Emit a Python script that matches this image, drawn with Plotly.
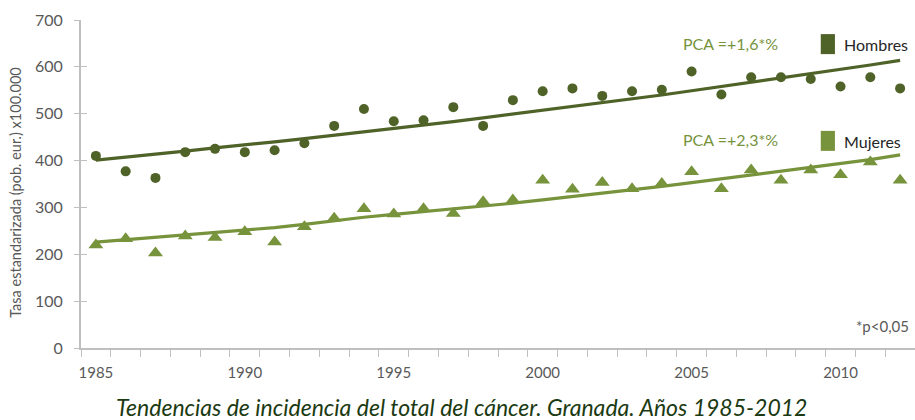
import plotly.graph_objects as go

years = list(range(1985, 2013))

hombres_obs = [410, 377, 363, 418, 425, 418, 422, 437, 474, 510,
               484, 486, 514, 474, 529, 548, 554, 538, 548, 551,
               590, 541, 578, 578, 574, 558, 578, 554]
hombres_trend = [401, 407, 413, 420, 427, 433, 440, 447, 454, 461,
                 468, 476, 483, 491, 499, 507, 515, 523, 532, 540,
                 549, 558, 567, 576, 585, 595, 604, 614]

mujeres_obs = [220, 233, 203, 239, 236, 248, 226, 259, 277, 297,
               286, 297, 287, 312, 316, 358, 339, 353, 340, 351,
               376, 340, 380, 358, 380, 370, 397, 358]
mujeres_trend = [226, 231, 236, 241, 247, 252, 257, 264, 272, 279,
                 285, 291, 296, 302, 309, 316, 323, 330, 337, 345,
                 353, 361, 369, 377, 385, 393, 402, 412]

x_labels = [1985, 1990, 1995, 2000, 2005, 2010]
y_ticks = [0, 100, 200, 300, 400, 500, 600, 700]

DARK = "#4F6228"
LIGHT = "#77933C"
GRAY = "#595959"
AXIS = "#BFBFBF"
FONT = "Lato"

fig = go.Figure()

fig.add_trace(go.Scatter(x=years, y=hombres_trend, mode="lines",
                         line=dict(color=DARK, width=3.2), showlegend=False))
fig.add_trace(go.Scatter(x=years, y=hombres_obs, mode="markers",
                         marker=dict(color=DARK, size=10, symbol="circle"),
                         showlegend=False))
fig.add_trace(go.Scatter(x=years, y=mujeres_trend, mode="lines",
                         line=dict(color=LIGHT, width=3.2), showlegend=False))
fig.add_trace(go.Scatter(x=years, y=mujeres_obs, mode="markers",
                         marker=dict(color=LIGHT, size=13, symbol="triangle-up"),
                         showlegend=False))
# invisible trace so the overlay axis (inner half of the y ticks) is drawn
fig.add_trace(go.Scatter(x=[years[0]], y=[0], yaxis="y2", mode="markers",
                         marker=dict(opacity=0), showlegend=False, hoverinfo="skip"))

fig.update_layout(
    width=915, height=420,
    margin=dict(l=81, r=0, t=20, b=72),
    plot_bgcolor="white", paper_bgcolor="white",
    font=dict(family=FONT, color=GRAY, size=15),
    xaxis=dict(
        range=[1984.5, 2012.5], tickvals=x_labels, ticks="",
        showline=True, linecolor=AXIS, linewidth=1.5, showgrid=False, zeroline=False,
        tickfont=dict(size=15, color=GRAY), ticklabelstandoff=10,
        minor=dict(ticks="outside", tick0=1984.5, dtick=1, ticklen=7,
                   tickcolor=AXIS, tickwidth=1, showgrid=False),
    ),
    yaxis=dict(
        range=[0, 700], tickvals=y_ticks, ticks="outside", ticklen=5,
        tickcolor=AXIS, showline=True, linecolor=AXIS, linewidth=2,
        showgrid=False, zeroline=False, tickfont=dict(size=16, color=GRAY),
        ticklabelstandoff=8,
    ),
    yaxis2=dict(
        range=[0, 700], tickvals=y_ticks, ticks="inside", ticklen=6,
        tickcolor=AXIS, overlaying="y", side="left", showticklabels=False,
        showline=False, showgrid=False, zeroline=False,
    ),
)

# y axis title, placed as a rotated annotation
fig.add_annotation(x=-0.078, y=0.476, xref="paper", yref="paper",
                   text="Tasa estandarizada (pob. eur.) x100.000", textangle=-90,
                   xanchor="center", yanchor="middle", showarrow=False,
                   font=dict(size=14.5, color=GRAY))

# trend labels
fig.add_annotation(x=0.779, y=0.929, xref="paper", yref="paper", text="PCA =+1,6*%",
                   xanchor="center", yanchor="middle",
                   showarrow=False, font=dict(size=16, color=LIGHT))
fig.add_annotation(x=0.779, y=0.636, xref="paper", yref="paper", text="PCA =+2,3*%",
                   xanchor="center", yanchor="middle",
                   showarrow=False, font=dict(size=16, color=LIGHT))

# legend boxes
for y0, col, name in [(0.896, DARK, "Hombres"), (0.601, LIGHT, "Mujeres")]:
    fig.add_shape(type="rect", xref="paper", yref="paper",
                  x0=0.887, x1=0.904, y0=y0, y1=y0 + 0.061,
                  fillcolor=col, line=dict(width=0))
    fig.add_annotation(x=0.913, y=y0 + 0.03, xref="paper", yref="paper", text=name,
                       xanchor="left", yanchor="middle", showarrow=False,
                       font=dict(size=16, color="#262626"))

fig.add_annotation(x=0.995, y=0.067, xref="paper", yref="paper", text="*p<0,05",
                   xanchor="right", yanchor="middle", showarrow=False,
                   font=dict(size=15, color=GRAY))

fig.add_annotation(x=0.5, y=-0.18, xref="paper", yref="paper", yanchor="middle",
                   xanchor="center",
                   text="<i>Tendencias de incidencia del total del cáncer. Granada. Años 1985-2012</i>",
                   showarrow=False, xshift=-37, font=dict(size=23, color="#1B3A12"))

fig.write_html("out.html", config={"displayModeBar": False},
               post_script="document.body.style.margin='0';")
